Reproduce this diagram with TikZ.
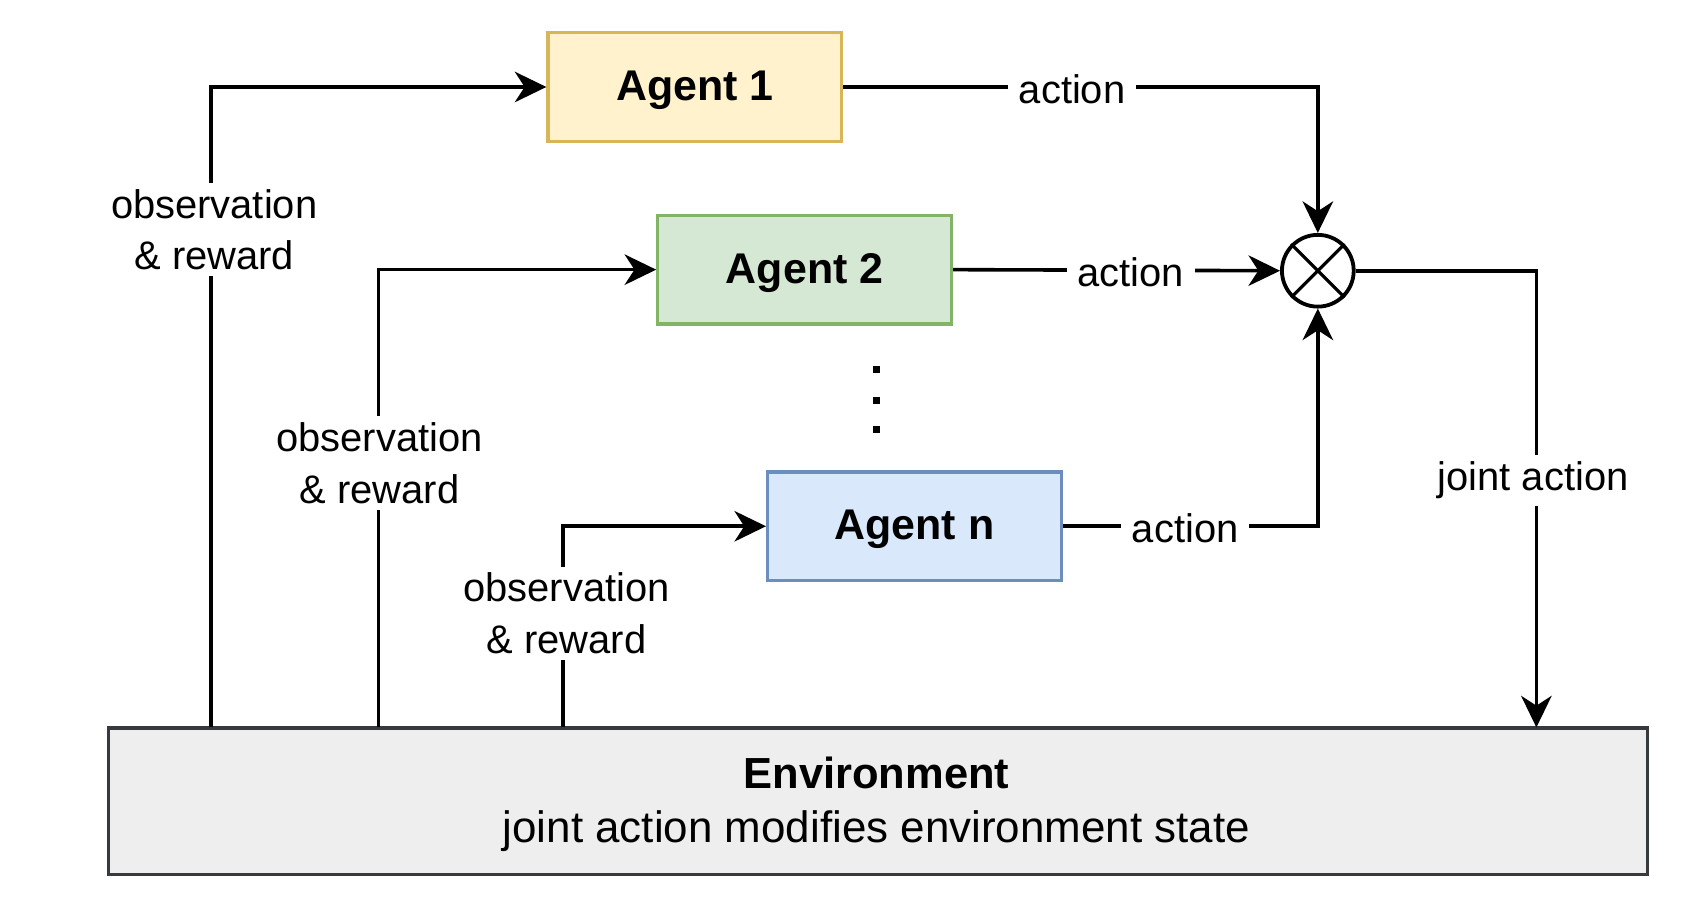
\documentclass[tikz,border=0pt]{standalone}
\usepackage{fontspec}
\setmainfont{Liberation Sans}
\usetikzlibrary{arrows.meta}
\definecolor{yfill}{HTML}{FFF2CC}\definecolor{ydraw}{HTML}{D6B656}
\definecolor{gfill}{HTML}{D5E8D4}\definecolor{gdraw}{HTML}{82B366}
\definecolor{bfill}{HTML}{DAE8FC}\definecolor{bdraw}{HTML}{6C8EBF}
\definecolor{efill}{HTML}{EEEEEE}\definecolor{edraw}{HTML}{36393D}
\begin{document}
\begin{tikzpicture}[x=1pt,y=-1pt,
  agentbox/.style={draw, line width=3pt, minimum width=270pt, minimum height=100pt, inner sep=0pt,
    text depth=3pt, font=\fontsize{39.5}{47}\selectfont\bfseries},
  conn/.style={line width=3.3pt},
  arr/.style={conn, -{Stealth[length=29pt,width=28pt,inset=9pt]}},
  lbl/.style={fill=white, align=center, inner xsep=10pt, inner ysep=6pt,
    font=\fontsize{36.7}{47}\selectfont},
  dotmark/.style={fill=black, inner sep=0pt, minimum size=6.5pt}
]
\useasboundingbox (0,0) rectangle (1569,840);

% nodes
\node[agentbox, fill=yfill, draw=ydraw] (a1) at (639,80) {Agent 1};
\node[agentbox, fill=gfill, draw=gdraw] (a2) at (740,248) {Agent 2};
\node[agentbox, fill=bfill, draw=bdraw] (an) at (841,484) {Agent n};
\node[circle, draw, line width=3.5pt, minimum size=66pt, inner sep=0pt] (m) at (1212,249) {};
\draw[line width=3pt] (m.north east) -- (m.south west);
\draw[line width=3pt] (m.north west) -- (m.south east);
\node[draw=edraw, fill=efill, line width=3pt, minimum width=1415pt, minimum height=135pt, inner sep=0pt] (env) at (807.5,737) {};
\node[anchor=base, font=\fontsize{40}{48}\selectfont\bfseries] (envt) at (806,725) {Environment};
\node[anchor=base, font=\fontsize{40.4}{48}\selectfont] (envs) at (806,775) {joint action modifies environment state};

\node[dotmark] (d1) at (806,340) {};
\node[dotmark] (d2) at (806,368) {};
\node[dotmark] (d3) at (806,395) {};

% coordinates on environment top
\coordinate (e1) at (194,669);
\coordinate (e2) at (348,669);
\coordinate (e3) at (518,669);
\coordinate (e4) at (1413,669);

% connectors
\draw[arr] (e1) |- (a1.west);
\draw[arr] (e2) |- (a2.west);
\draw[arr] (e3) |- (an.west);
\draw[arr] (a1.east) -| (m.north);
\draw[arr] (a2.east) -- (m.west);
\draw[arr] (an.east) -| (m.south);
\draw[arr] (m.east) -| (e4);

% labels
\node[lbl] (o1) at (197,211) {observation\\\& reward};
\node[lbl] (o2) at (349,426) {observation\\\& reward};
\node[lbl] (o3) at (521,564) {observation\\\& reward};
\node[lbl] (l1) at (986,82) {action};
\node[lbl] (l2) at (1040,250) {action};
\node[lbl] (l3) at (1090,486) {action};
\node[lbl] (lj) at (1410,442) {joint action};
\end{tikzpicture}
\end{document}
